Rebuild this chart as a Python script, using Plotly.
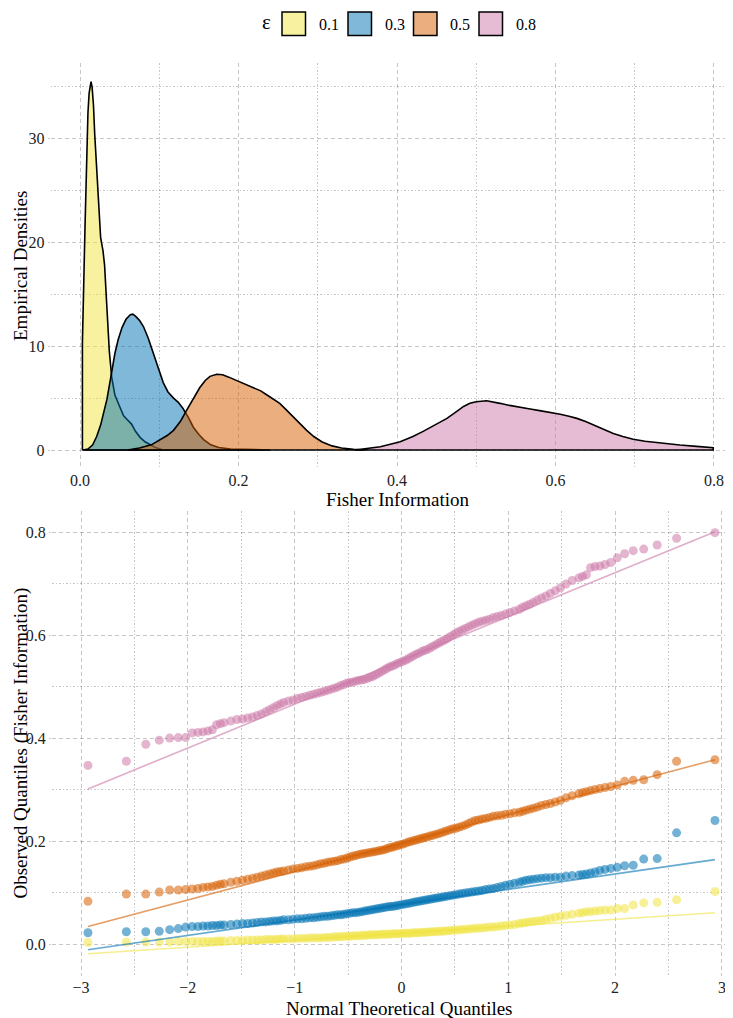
import statistics
import plotly.graph_objects as go

# ---------------- data ----------------
EPS_LABELS = ["0.1", "0.3", "0.5", "0.8"]
COLORS = ["#F0E442", "#0072B2", "#D55E00", "#CC79A7"]
FILLS = ["rgba(240,228,66,0.5)", "rgba(0,114,178,0.5)", "rgba(213,94,0,0.5)", "rgba(204,121,167,0.5)"]

# Empirical densities (top panel)
dens_x_01 = [0.003, 0.003, 0.0063, 0.0084, 0.0100, 0.0115, 0.0127, 0.0139, 0.0152, 0.0170, 0.0185, 0.0210,
             0.0235, 0.0260, 0.0290, 0.0310, 0.0330, 0.0350, 0.0370, 0.0400, 0.0440, 0.0500, 0.0550, 0.0600,
             0.0650, 0.0700, 0.0760, 0.0820, 0.0880, 0.0950, 0.1020]
dens_y_01 = [0.0, 10.3, 21.5, 28.0, 32.5, 34.4, 35.2, 35.5, 35.0, 33.2, 30.5, 27.0,
             23.0, 20.5, 19.2, 17.8, 15.0, 12.0, 9.5, 7.0, 5.3, 4.2, 3.3, 2.9,
             2.5, 1.8, 1.2, 0.8, 0.55, 0.25, 0.1]
dens_x_03 = [0.004, 0.010, 0.016, 0.021, 0.026, 0.030, 0.034, 0.037, 0.040, 0.044, 0.048, 0.053, 0.058,
             0.0635, 0.0665, 0.070, 0.075, 0.080, 0.086, 0.0925, 0.099, 0.105, 0.111, 0.118, 0.124,
             0.130, 0.137, 0.143, 0.150, 0.156, 0.165, 0.175, 0.190, 0.210, 0.240]
dens_y_03 = [0.0, 0.1, 0.5, 1.3, 2.4, 3.6, 4.9, 6.2, 7.6, 9.3, 10.6, 11.8, 12.6,
             13.05, 13.1, 12.9, 12.5, 11.9, 10.8, 9.3, 7.8, 6.5, 5.6, 5.0, 4.6,
             4.0, 3.1, 2.2, 1.5, 1.0, 0.5, 0.25, 0.1, 0.05, 0.02]
dens_x_05 = [0.060, 0.075, 0.090, 0.101, 0.110, 0.118, 0.127, 0.135, 0.143, 0.151, 0.158, 0.164, 0.1725,
             0.180, 0.187, 0.195, 0.202, 0.210, 0.219, 0.228, 0.236, 0.244, 0.252, 0.260, 0.269,
             0.278, 0.286, 0.295, 0.305, 0.318, 0.330, 0.345, 0.360]
dens_y_05 = [0.0, 0.2, 0.5, 1.0, 1.4, 1.9, 2.8, 3.9, 5.0, 6.0, 6.7, 7.1, 7.3,
             7.25, 7.05, 6.8, 6.55, 6.3, 6.0, 5.7, 5.3, 4.9, 4.5, 3.9, 3.2,
             2.5, 1.9, 1.3, 0.8, 0.4, 0.2, 0.08, 0.02]
dens_x_08 = [0.347, 0.360, 0.379, 0.404, 0.420, 0.433, 0.448, 0.463, 0.475, 0.484, 0.492, 0.500, 0.513,
             0.522, 0.530, 0.542, 0.555, 0.568, 0.580, 0.593, 0.606, 0.617, 0.627, 0.638, 0.648,
             0.660, 0.673, 0.685, 0.698, 0.713, 0.728, 0.743, 0.757, 0.778, 0.799]
dens_y_08 = [0.0, 0.12, 0.32, 0.8, 1.3, 1.8, 2.4, 3.05, 3.7, 4.2, 4.5, 4.66, 4.75,
             4.65, 4.5, 4.3, 4.1, 3.95, 3.8, 3.65, 3.45, 3.25, 3.05, 2.75, 2.4,
             2.0, 1.6, 1.3, 1.03, 0.85, 0.7, 0.58, 0.48, 0.35, 0.23]

# QQ panel: sample size and the order statistics (ranks) that are shown
N_SAMPLE = 300
RANKS = (list(range(1, 16)) + list(range(17, 40, 2)) + list(range(41, 261, 3))
         + list(range(262, 285, 2)) + list(range(286, 301)))

obs_01 = ([.003, .004, .004, .004, .004, .005, .005, .005, .005, .005, .005, .005, .006, .006, .006]
          + [.007, .007, .007, .008, .008, .008, .008, .009, .009, .009, .009, .010]
          + [.010, .010, .010, .011, .011, .011, .012, .012, .012, .012, .013, .013, .013, .014, .014, .014,
             .015, .015, .015, .016, .016, .016, .017, .017, .017, .018, .018, .018, .018, .019, .019, .019,
             .019, .020, .020, .020, .020]
          + [.021, .021, .021, .021, .022, .022, .022, .023, .023, .023, .024, .024, .024, .025, .025, .025,
             .026, .026, .027, .027, .028, .028, .029, .029, .030, .030, .031, .031, .032, .033, .033, .034,
             .035, .036, .037, .038, .040]
          + [.041, .042, .043, .044, .045, .046, .048, .050, .052, .054, .056, .058]
          + [.060, .061, .063, .063, .064, .065, .066, .066, .069, .069, .076, .080, .081, .086, .102])
obs_03 = ([.022, .024, .024, .025, .028, .030, .033, .034, .034, .035, .035, .036, .036, .037, .037]
          + [.038, .039, .040, .040, .041, .042, .043, .043, .044, .045, .045, .046]
          + [.047, .047, .048, .049, .049, .050, .051, .051, .052, .053, .054, .054, .055, .056, .057, .057,
             .058, .059, .060, .061, .061, .062, .063, .064, .065, .066, .067, .068, .069, .070, .071, .072,
             .073, .073, .074, .075, .076]
          + [.077, .078, .079, .080, .081, .082, .083, .084, .085, .086, .087, .088, .089, .090, .091, .092,
             .093, .094, .095, .096, .097, .098, .099, .100, .101, .102, .103, .104, .106, .107, .108, .110,
             .112, .114, .116, .118, .120]
          + [.122, .124, .125, .126, .127, .128, .129, .129, .130, .130, .132, .133]
          + [.134, .135, .136, .138, .140, .143, .145, .147, .149, .152, .153, .165, .166, .216, .240])
obs_05 = ([.083, .097, .097, .101, .105, .105, .106, .107, .108, .110, .111, .112, .114, .116, .117]
          + [.120, .122, .124, .126, .128, .130, .132, .134, .136, .138, .140, .141]
          + [.142, .144, .146, .147, .148, .150, .151, .152, .154, .156, .157, .159, .160, .161, .162, .164,
             .165, .167, .169, .171, .172, .174, .175, .176, .177, .178, .179, .180, .181, .182, .183, .185,
             .187, .188, .190, .191, .193]
          + [.194, .196, .198, .199, .201, .202, .204, .205, .207, .208, .210, .211, .213, .214, .216, .218,
             .220, .222, .224, .225, .227, .229, .231, .234, .237, .240, .241, .243, .244, .246, .248, .249,
             .250, .252, .253, .255, .256]
          + [.258, .260, .262, .264, .266, .269, .271, .273, .276, .279, .284, .288]
          + [.292, .294, .296, .298, .300, .302, .304, .306, .309, .316, .318, .319, .329, .355, .358])
obs_08 = ([.347, .355, .388, .396, .400, .401, .401, .410, .411, .412, .414, .416, .426, .428, .430]
          + [.433, .436, .437, .439, .441, .444, .447, .451, .455, .459, .463, .466]
          + [.469, .472, .474, .477, .479, .481, .483, .485, .487, .489, .491, .493, .495, .497, .499, .502,
             .504, .507, .508, .509, .511, .512, .513, .514, .516, .518, .520, .523, .526, .529, .532, .535,
             .538, .540, .542, .545, .547]
          + [.549, .551, .554, .557, .560, .563, .565, .568, .570, .572, .575, .578, .581, .584, .587, .590,
             .593, .597, .600, .604, .607, .610, .613, .616, .619, .622, .625, .627, .629, .631, .634, .636,
             .638, .641, .644, .647, .650]
          + [.654, .657, .660, .664, .668, .672, .676, .681, .686, .692, .699, .706]
          + [.711, .714, .717, .731, .733, .734, .737, .741, .750, .758, .764, .767, .775, .788, .799])

# reference-line parameters (intercept, slope)
QQ_INTERCEPT = [0.021, 0.0765, 0.196, 0.551]
QQ_SLOPE = [0.0136, 0.0298, 0.0552, 0.0851]

DENS_X = [dens_x_01, dens_x_03, dens_x_05, dens_x_08]
DENS_Y = [dens_y_01, dens_y_03, dens_y_05, dens_y_08]
OBS = [obs_01, obs_03, obs_05, obs_08]
for o in OBS:
    assert len(o) == len(RANKS), (len(o), len(RANKS))

# ---------------- figure ----------------
# the page body has an 8px margin, so the figure is drawn 8px in from the window corner
OFF = 8
W, H = 733 - OFF, 1018 - OFF
FONT = "Liberation Serif, Times New Roman, serif"
GRID = "rgba(0,0,0,0.22)"


def PX(x):
    return (x - OFF) / W


def PY(y):
    return 1 - (y - OFF) / H


nd = statistics.NormalDist()
theo = [nd.inv_cdf((r - 0.5) / N_SAMPLE) for r in RANKS]

fig = go.Figure()

# top: densities
for i in range(4):
    xs, ys = DENS_X[i], DENS_Y[i]
    px_ = [xs[0]] + xs + [xs[-1], xs[0]]
    py_ = [0.0] + ys + [0.0, 0.0]
    fig.add_trace(go.Scatter(x=px_, y=py_, mode="lines", fill="toself", fillcolor=FILLS[i],
                             line=dict(color="black", width=1.6), xaxis="x", yaxis="y",
                             name=EPS_LABELS[i], showlegend=False, hoverinfo="skip"))

# bottom: qq points
for i in range(4):
    fig.add_trace(go.Scatter(x=theo, y=OBS[i], mode="markers",
                             marker=dict(color=COLORS[i], size=9, opacity=0.55, line=dict(width=0)),
                             xaxis="x2", yaxis="y2", showlegend=False))
# bottom: qq lines
for i in range(4):
    z0, z1 = min(theo), max(theo)
    fig.add_trace(go.Scatter(x=[z0, z1], y=[QQ_INTERCEPT[i] + QQ_SLOPE[i] * z0, QQ_INTERCEPT[i] + QQ_SLOPE[i] * z1],
                             mode="lines", line=dict(color=COLORS[i], width=1.6), opacity=0.6,
                             xaxis="x2", yaxis="y2", showlegend=False))


def ax(domain, rng, dtick, mdtick, fmt, anchor, ticklen):
    return dict(domain=domain, range=rng, anchor=anchor, dtick=dtick, tick0=0, tickformat=fmt,
                showgrid=True, gridcolor=GRID, griddash="4px,3px", gridwidth=1,
                zeroline=False, showline=False, ticks="outside" if ticklen else "", ticklen=ticklen,
                tickcolor=GRID,
                tickfont=dict(family=FONT, size=16, color="#222"),
                minor=dict(dtick=mdtick, tick0=0, showgrid=True, gridcolor=GRID, griddash="1.5px,2px", gridwidth=1))


top_y = [PY(468.5), PY(63)]
bot_y = [PY(976), PY(511)]
fig.update_layout(
    width=W, height=H, margin=dict(l=0, r=0, t=0, b=0),
    paper_bgcolor="white", plot_bgcolor="white", showlegend=False,
    xaxis=ax([PX(50.7), 1], [-0.037, 0.824], 0.2, 0.1, ".1f", "y", 0),
    yaxis=ax(top_y, [-1.78, 37.3], 10, 5, "d", "x", 2),
    xaxis2=ax([PX(52), 1], [-3.272, 3.104], 1, 0.5, "d", "y2", 0),
    yaxis2=ax(bot_y, [-0.062, 0.841], 0.2, 0.1, ".1f", "x2", 2),
)

ann = []


def txt(x, y, s, size=19, angle=0, xanchor="center"):
    ann.append(dict(x=PX(x), y=PY(y), xref="paper", yref="paper", text=s, showarrow=False,
                    textangle=angle, xanchor=xanchor, yanchor="middle",
                    font=dict(family=FONT, size=size, color="black")))


txt(398, 499, "Fisher Information")
txt(400, 1008, "Normal Theoretical Quantiles")
txt(20, 266, "Empirical Densities", angle=-90)
txt(20, 743.5, "Observed Quantiles (Fisher Information)", angle=-90)

# legend
shapes = []
txt(266.5, 22, "ε", size=21)
box_left = [282, 348, 413.5, 479]
for i in range(4):
    shapes.append(dict(type="rect", xref="paper", yref="paper",
                       x0=PX(box_left[i]), x1=PX(box_left[i] + 23.5),
                       y0=PY(35.5), y1=PY(12),
                       fillcolor=FILLS[i], line=dict(color="black", width=1.5)))
    txt(box_left[i] + 34.5, 24, EPS_LABELS[i], size=16, xanchor="left")

fig.update_layout(annotations=ann, shapes=shapes)
fig.write_html("out.html")
